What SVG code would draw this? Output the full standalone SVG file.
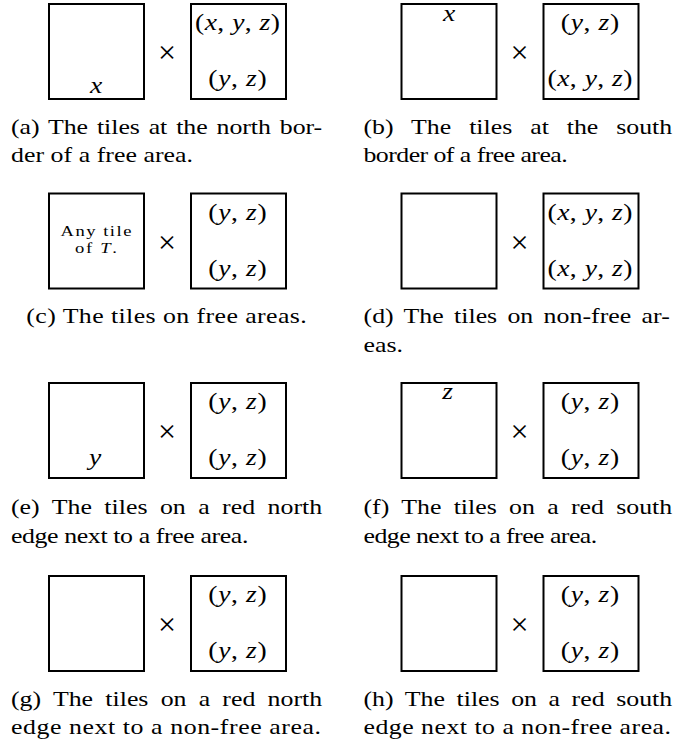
<svg xmlns="http://www.w3.org/2000/svg" width="677" height="745" viewBox="0 0 677 745">
<style>
.box{fill:#fff;stroke:#000;stroke-width:2}
text{font-family:"Liberation Serif","Times New Roman",serif;fill:#000}
.cap{font-size:21px}
.capc{font-size:21px;text-anchor:middle}
.m{font-size:24px;text-anchor:middle}
.i{font-style:italic}
.tiny{font-size:15.5px;text-anchor:middle}
.x{font-size:32px;text-anchor:middle}
</style>
<rect width="677" height="745" fill="#fff"/>
<g id="connectors"/>

<g id="panel-a">
 <g id="a-tile"><rect class="box" x="49" y="4" width="95" height="95"/><text class="m i" transform="translate(96,93) scale(1.15,1)">x</text></g>
 <text class="x" x="167" y="63">×</text>
 <g id="a-pair"><rect class="box" x="191" y="4" width="95" height="95"/>
  <text class="m" transform="translate(237.5,30) scale(1.15,1)" textLength="74" lengthAdjust="spacing">(<tspan class="i">x</tspan>, <tspan class="i">y</tspan>, <tspan class="i">z</tspan>)</text>
  <text class="m" transform="translate(237.5,86) scale(1.15,1)" textLength="50.7" lengthAdjust="spacing">(<tspan class="i">y</tspan>, <tspan class="i">z</tspan>)</text>
 </g>
 <text class="cap" style="word-spacing:2px" transform="translate(11,133.5) scale(1.23,1)" textLength="253" lengthAdjust="spacing">(a) The tiles at the north bor-</text>
 <text class="cap" transform="translate(11,162) scale(1.23,1)" textLength="148" lengthAdjust="spacing">der of a free area.</text>
</g>

<g id="panel-b">
 <g id="b-tile"><rect class="box" x="401.5" y="4" width="95" height="95"/><text class="m i" transform="translate(449,20.5) scale(1.15,1)">x</text></g>
 <text class="x" x="519.5" y="63">×</text>
 <g id="b-pair"><rect class="box" x="543.5" y="4" width="95" height="95"/>
  <text class="m" transform="translate(590,30) scale(1.15,1)" textLength="50.7" lengthAdjust="spacing">(<tspan class="i">y</tspan>, <tspan class="i">z</tspan>)</text>
  <text class="m" transform="translate(590,86) scale(1.15,1)" textLength="74" lengthAdjust="spacing">(<tspan class="i">x</tspan>, <tspan class="i">y</tspan>, <tspan class="i">z</tspan>)</text>
 </g>
 <text class="cap" style="word-spacing:9.3px" transform="translate(363.5,133.5) scale(1.23,1)" textLength="251" lengthAdjust="spacing">(b) The tiles at the south</text>
 <text class="cap" transform="translate(363.5,162) scale(1.23,1)" textLength="166" lengthAdjust="spacing">border of a free area.</text>
</g>

<g id="panel-c">
 <g id="c-tile"><rect class="box" x="49" y="193.5" width="95" height="95"/>
  <text class="tiny" transform="translate(96,236) scale(1.2,1)" textLength="59" lengthAdjust="spacing">Any tile</text>
  <text class="tiny" transform="translate(96,253) scale(1.2,1)" textLength="35" lengthAdjust="spacing">of <tspan class="i">T</tspan>.</text>
 </g>
 <text class="x" x="167" y="252.5">×</text>
 <g id="c-pair"><rect class="box" x="191" y="193.5" width="95" height="95"/>
  <text class="m" transform="translate(237.5,219.5) scale(1.15,1)" textLength="50.7" lengthAdjust="spacing">(<tspan class="i">y</tspan>, <tspan class="i">z</tspan>)</text>
  <text class="m" transform="translate(237.5,275.5) scale(1.15,1)" textLength="50.7" lengthAdjust="spacing">(<tspan class="i">y</tspan>, <tspan class="i">z</tspan>)</text>
 </g>
 <text class="capc" transform="translate(166.5,323) scale(1.23,1)" textLength="228" lengthAdjust="spacing">(c) The tiles on free areas.</text>
</g>

<g id="panel-d">
 <g id="d-tile"><rect class="box" x="401.5" y="193.5" width="95" height="95"/></g>
 <text class="x" x="519.5" y="252.5">×</text>
 <g id="d-pair"><rect class="box" x="543.5" y="193.5" width="95" height="95"/>
  <text class="m" transform="translate(590,219.5) scale(1.15,1)" textLength="74" lengthAdjust="spacing">(<tspan class="i">x</tspan>, <tspan class="i">y</tspan>, <tspan class="i">z</tspan>)</text>
  <text class="m" transform="translate(590,275.5) scale(1.15,1)" textLength="74" lengthAdjust="spacing">(<tspan class="i">x</tspan>, <tspan class="i">y</tspan>, <tspan class="i">z</tspan>)</text>
 </g>
 <text class="cap" style="word-spacing:3px" transform="translate(363.5,323) scale(1.23,1)" textLength="249" lengthAdjust="spacing">(d) The tiles on non-free ar-</text>
 <text class="cap" transform="translate(363.5,351.5) scale(1.23,1)">eas.</text>
</g>

<g id="panel-e">
 <g id="e-tile"><rect class="box" x="49" y="383" width="95" height="95"/><text class="m i" transform="translate(95,465) scale(1.15,1)">y</text></g>
 <text class="x" x="167" y="442">×</text>
 <g id="e-pair"><rect class="box" x="191" y="383" width="95" height="95"/>
  <text class="m" transform="translate(237.5,409) scale(1.15,1)" textLength="50.7" lengthAdjust="spacing">(<tspan class="i">y</tspan>, <tspan class="i">z</tspan>)</text>
  <text class="m" transform="translate(237.5,465) scale(1.15,1)" textLength="50.7" lengthAdjust="spacing">(<tspan class="i">y</tspan>, <tspan class="i">z</tspan>)</text>
 </g>
 <text class="cap" style="word-spacing:4.85px" transform="translate(11,514) scale(1.23,1)" textLength="253" lengthAdjust="spacing">(e) The tiles on a red north</text>
 <text class="cap" transform="translate(11,542.5) scale(1.23,1)" textLength="193" lengthAdjust="spacing">edge next to a free area.</text>
</g>

<g id="panel-f">
 <g id="f-tile"><rect class="box" x="401.5" y="383" width="95" height="95"/><text class="m i" transform="translate(447.5,398.5) scale(1.15,1)">z</text></g>
 <text class="x" x="519.5" y="442">×</text>
 <g id="f-pair"><rect class="box" x="543.5" y="383" width="95" height="95"/>
  <text class="m" transform="translate(590,409) scale(1.15,1)" textLength="50.7" lengthAdjust="spacing">(<tspan class="i">y</tspan>, <tspan class="i">z</tspan>)</text>
  <text class="m" transform="translate(590,465) scale(1.15,1)" textLength="50.7" lengthAdjust="spacing">(<tspan class="i">y</tspan>, <tspan class="i">z</tspan>)</text>
 </g>
 <text class="cap" style="word-spacing:4.7px" transform="translate(363.5,514) scale(1.23,1)" textLength="251" lengthAdjust="spacing">(f) The tiles on a red south</text>
 <text class="cap" transform="translate(363.5,542.5) scale(1.23,1)" textLength="190" lengthAdjust="spacing">edge next to a free area.</text>
</g>

<g id="panel-g">
 <g id="g-tile"><rect class="box" x="49" y="576" width="95" height="95"/></g>
 <text class="x" x="167" y="635">×</text>
 <g id="g-pair"><rect class="box" x="191" y="576" width="95" height="95"/>
  <text class="m" transform="translate(237.5,602) scale(1.15,1)" textLength="50.7" lengthAdjust="spacing">(<tspan class="i">y</tspan>, <tspan class="i">z</tspan>)</text>
  <text class="m" transform="translate(237.5,658) scale(1.15,1)" textLength="50.7" lengthAdjust="spacing">(<tspan class="i">y</tspan>, <tspan class="i">z</tspan>)</text>
 </g>
 <text class="cap" style="word-spacing:4.65px" transform="translate(11,705.5) scale(1.23,1)" textLength="253" lengthAdjust="spacing">(g) The tiles on a red north</text>
 <text class="cap" transform="translate(11,734) scale(1.23,1)" textLength="252" lengthAdjust="spacing">edge next to a non-free area.</text>
</g>

<g id="panel-h">
 <g id="h-tile"><rect class="box" x="401.5" y="576" width="95" height="95"/></g>
 <text class="x" x="519.5" y="635">×</text>
 <g id="h-pair"><rect class="box" x="543.5" y="576" width="95" height="95"/>
  <text class="m" transform="translate(590,602) scale(1.15,1)" textLength="50.7" lengthAdjust="spacing">(<tspan class="i">y</tspan>, <tspan class="i">z</tspan>)</text>
  <text class="m" transform="translate(590,658) scale(1.15,1)" textLength="50.7" lengthAdjust="spacing">(<tspan class="i">y</tspan>, <tspan class="i">z</tspan>)</text>
 </g>
 <text class="cap" style="word-spacing:4.1px" transform="translate(363.5,705.5) scale(1.23,1)" textLength="251" lengthAdjust="spacing">(h) The tiles on a red south</text>
 <text class="cap" transform="translate(363.5,734) scale(1.23,1)" textLength="250" lengthAdjust="spacing">edge next to a non-free area.</text>
</g>
</svg>
